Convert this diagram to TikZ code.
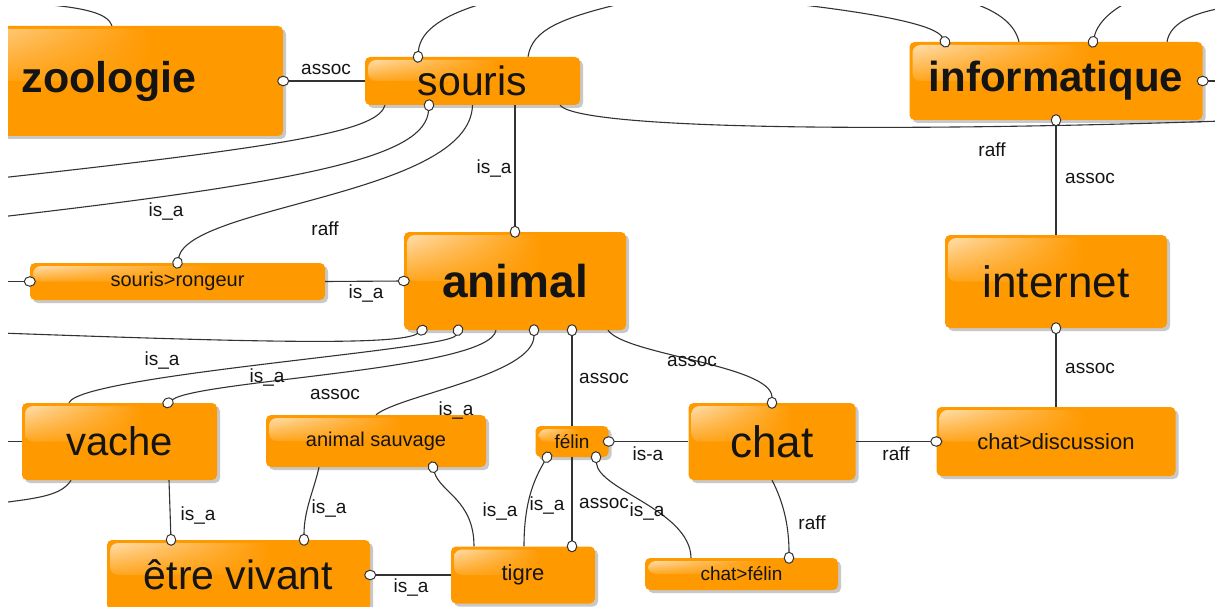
\documentclass[tikz,border=0pt]{standalone}
\usepackage{fontspec}
\setmainfont{Liberation Sans}
\usetikzlibrary{arrows.meta,calc,shadows,shadings}
\definecolor{boxorange}{HTML}{FF9900}
\definecolor{glossorange}{HTML}{FFDDAA}
\definecolor{linkgrey}{HTML}{333333}
\definecolor{inkdark}{HTML}{141414}

\begin{document}
\begin{tikzpicture}[x=1pt, y=-1pt,
    concept/.style={fill=boxorange, rounded corners=5pt, inner sep=0pt, text=inkdark,
      drop shadow={shadow xshift=3pt, shadow yshift=-3pt, opacity=0.3, fill=black!70}, gloss},
    gloss/.style={path picture={
      \coordinate (gA) at ($(path picture bounding box.north west)!0.62!(path picture bounding box.north east)$);
      \coordinate (gB) at ($(path picture bounding box.north west)!0.5!(path picture bounding box.south west)$);
      \shade[rounded corners=8pt, upper left=glossorange, upper right=boxorange,
             lower left=boxorange!88!white, lower right=boxorange]
        ([shift={(3pt,-3pt)}]path picture bounding box.north west) rectangle (gA |- gB);
    }},
    hugebold/.style={font=\fontsize{#1}{#1}\selectfont\bfseries},
    hugetext/.style={font=\fontsize{#1}{#1}\selectfont},
    smalltext/.style={font=\fontsize{#1}{#1}\selectfont},
    link/.style={draw=linkgrey, line width=1.1pt},
    oend/.style={-{Circle[length=12pt, width=10.5pt, fill=white, line width=1pt]}, shorten >=-6pt},
    ostart/.style={{Circle[length=12pt, width=10.5pt, fill=white, line width=1pt]}-, shorten <=-6pt},
    lbl/.style={font=\fontsize{19}{19}\selectfont, text=inkdark, inner sep=0pt}
]
\useasboundingbox (0,0) rectangle (1215,607);
\fill[white] (0,0) rectangle (1215,607);
\begin{scope}
\clip (8,7) rectangle (1215,607);

% concepts
\node[concept, hugebold=43, minimum width=348pt, minimum height=110pt] (zoologie) at (109,81) {zoologie};
\node[concept, hugetext=41, minimum width=215pt, minimum height=48pt] (souris) at (472.5,81) {souris};
\node[concept, hugebold=42, minimum width=293pt, minimum height=78pt] (informatique) at (1056,81) {informatique};
\node[concept, hugebold=46, minimum width=222pt, minimum height=98pt] (animal) at (515,281) {animal};
\node[concept, hugetext=44, minimum width=222pt, minimum height=93pt] (internet) at (1056,281.5) {internet};
\node[concept, smalltext=20, minimum width=295pt, minimum height=37pt] (rongeur) at (177.5,281.5) {souris>rongeur};
\node[concept, hugetext=40, minimum width=195pt, minimum height=77pt] (vache) at (119.5,441.5) {vache};
\node[concept, smalltext=20, minimum width=220pt, minimum height=52pt] (sauvage) at (376,441) {animal sauvage};
\node[concept, smalltext=19, minimum width=73pt, minimum height=31pt] (felin) at (572,441.5) {félin};
\node[concept, hugetext=44, minimum width=167pt, minimum height=77pt] (chat) at (772,441.5) {chat};
\node[concept, smalltext=22, minimum width=239pt, minimum height=69pt] (discussion) at (1056,441.5) {chat>discussion};
\node[concept, hugetext=41, minimum width=263pt, minimum height=70pt] (etre) at (238.5,575) {être vivant};
\node[concept, smalltext=22, minimum width=144pt, minimum height=57pt] (tigre) at (523,575) {tigre};
\node[concept, smalltext=19, minimum width=193pt, minimum height=32pt] (chatfelin) at (741.5,574) {chat>félin};

% loose ends at the border
\coordinate (ztop) at (40,4);
\coordinate (stopA) at (488,2);
\coordinate (stopB) at (628,2);
\coordinate (itopA) at (795,4);
\coordinate (itopB) at (970,2);
\coordinate (itopC) at (1128,2);
\coordinate (itopD) at (1222,8);
\coordinate (iright) at (1222,81);
\coordinate (redgeA) at (1222,121);
\coordinate (ledgeA) at (0,178);
\coordinate (ledgeB) at (0,217);
\coordinate (ledgeC) at (0,281.5);
\coordinate (ledgeD) at (0,333);
\coordinate (ledgeE) at (0,441.5);
\coordinate (ledgeF) at (0,503);

% links
\draw[link, oend] (souris.west) -- (zoologie.east);
\draw[link] ([xshift=3pt]zoologie.north) .. controls (108,14) and (88,8) .. (ztop);
\draw[link, ostart] ([xshift=-54.5pt]souris.north) .. controls (420,30) and (445,14) .. (stopA);
\draw[link] ([xshift=55.5pt]souris.north) .. controls (532,30) and (560,18) .. (stopB);
\draw[link] ([xshift=87.5pt]souris.south) .. controls (580,130) and (900,132) .. (redgeA);
\draw[link, ostart] ([xshift=-111pt]informatique.north) .. controls (935,25) and (880,14) .. (itopA);
\draw[link] ([xshift=-37pt]informatique.north) .. controls (1015,25) and (1000,12) .. (itopB);
\draw[link, ostart] ([xshift=37pt]informatique.north) .. controls (1097,25) and (1108,12) .. (itopC);
\draw[link] ([xshift=111pt]informatique.north) .. controls (1170,24) and (1190,14) .. (itopD);
\draw[link, oend] (iright) -- (informatique.east);
\draw[link, ostart] (informatique.south) -- (internet.north);
\draw[link, ostart] (internet.south) -- (discussion.north);

\draw[link] ([xshift=-87.5pt]souris.south) .. controls (378,130) and (300,145) .. (ledgeA);
\draw[link, ostart] ([xshift=-43.5pt]souris.south) .. controls (425,155) and (320,180) .. (ledgeB);
\draw[link, oend] (souris.south) .. controls (470,195) and (190,205) .. (rongeur.north);
\draw[link, oend] ([xshift=42.5pt]souris.south) -- (animal.north);
\draw[link, ostart] (rongeur.west) -- (ledgeC);
\draw[link, oend] (rongeur.east) -- (animal.west);

\draw[link, ostart] ([xshift=-93pt]animal.south) .. controls (400,346) and (250,342) .. (ledgeD);
\draw[link, ostart] ([xshift=-57pt]animal.south) .. controls (450,350) and (80,375) .. ([xshift=-50.5pt]vache.north);
\draw[link, oend] ([xshift=-19pt]animal.south) .. controls (490,370) and (200,380) .. ([xshift=48.5pt]vache.north);
\draw[link, ostart] ([xshift=19pt]animal.south) .. controls (534,375) and (400,395) .. (sauvage.north);
\draw[link, ostart] ([xshift=57pt]animal.south) -- (felin.north);
\draw[link, oend] ([xshift=93pt]animal.south) .. controls (625,355) and (772,365) .. (chat.north);

\draw[link, oend] (felin.south) -- ([xshift=49pt]tigre.north);
\draw[link, oend] (chat.west) -- (felin.east);
\draw[link, ostart] ([xshift=-25pt]felin.south) .. controls (535,478) and (524,500) .. ([xshift=1pt]tigre.north);
\draw[link, ostart] ([xshift=24pt]felin.south) .. controls (598,490) and (690,510) .. ([xshift=-50.5pt]chatfelin.north);
\draw[link, ostart] ([xshift=57pt]sauvage.south) .. controls (440,492) and (474,500) .. ([xshift=-49pt]tigre.north);
\draw[link, oend] ([xshift=-57pt]sauvage.south) .. controls (314,490) and (304,510) .. ([xshift=65.5pt]etre.north);
\draw[link, oend] ([xshift=49.5pt]vache.south) -- ([xshift=-67.5pt]etre.north);
\draw[link] (vache.west) -- (ledgeE);
\draw[link] ([xshift=-48.5pt]vache.south) .. controls (62,495) and (40,498) .. (ledgeF);
\draw[link, oend] (tigre.west) -- (etre.east);
\draw[link, oend] (chat.east) -- (discussion.west);
\draw[link, oend] (chat.south) .. controls (785,505) and (789,530) .. ([xshift=47.5pt]chatfelin.north);

% link labels
\node[lbl] (lzoo) at (326,69) {assoc};
\node[lbl] (lsani) at (494,169) {is\_a};
\node[lbl] (lsleft) at (166,212) {is\_a};
\node[lbl] (lsron) at (325,229) {raff};
\node[lbl] (lronani) at (366,294) {is\_a};
\node[lbl] (lsinf) at (992,150) {raff};
\node[lbl] (linfint) at (1090,178) {assoc};
\node[lbl] (lavl) at (162,361) {is\_a};
\node[lbl] (lavr) at (267,378) {is\_a};
\node[lbl] (lasau) at (335,394) {assoc};
\node[lbl] (lasau2) at (456,411) {is\_a};
\node[lbl] (lafel) at (604,378) {assoc};
\node[lbl] (lachat) at (692,361) {assoc};
\node[lbl] (lfelchat) at (648,454) {is-a};
\node[lbl] (lchatdis) at (896,454) {raff};
\node[lbl] (lintdis) at (1090,368) {assoc};
\node[lbl] (lvachetre) at (198,515) {is\_a};
\node[lbl] (lsauetre) at (329,508) {is\_a};
\node[lbl] (lsautig) at (500,511) {is\_a};
\node[lbl] (lfeltig) at (547,505) {is\_a};
\node[lbl] (lfeltig2) at (604,503) {assoc};
\node[lbl] (lfelcf) at (647,511) {is\_a};
\node[lbl] (lchatcf) at (812,523) {raff};
\node[lbl] (letretig) at (411,587) {is\_a};
\end{scope}
\end{tikzpicture}
\end{document}
